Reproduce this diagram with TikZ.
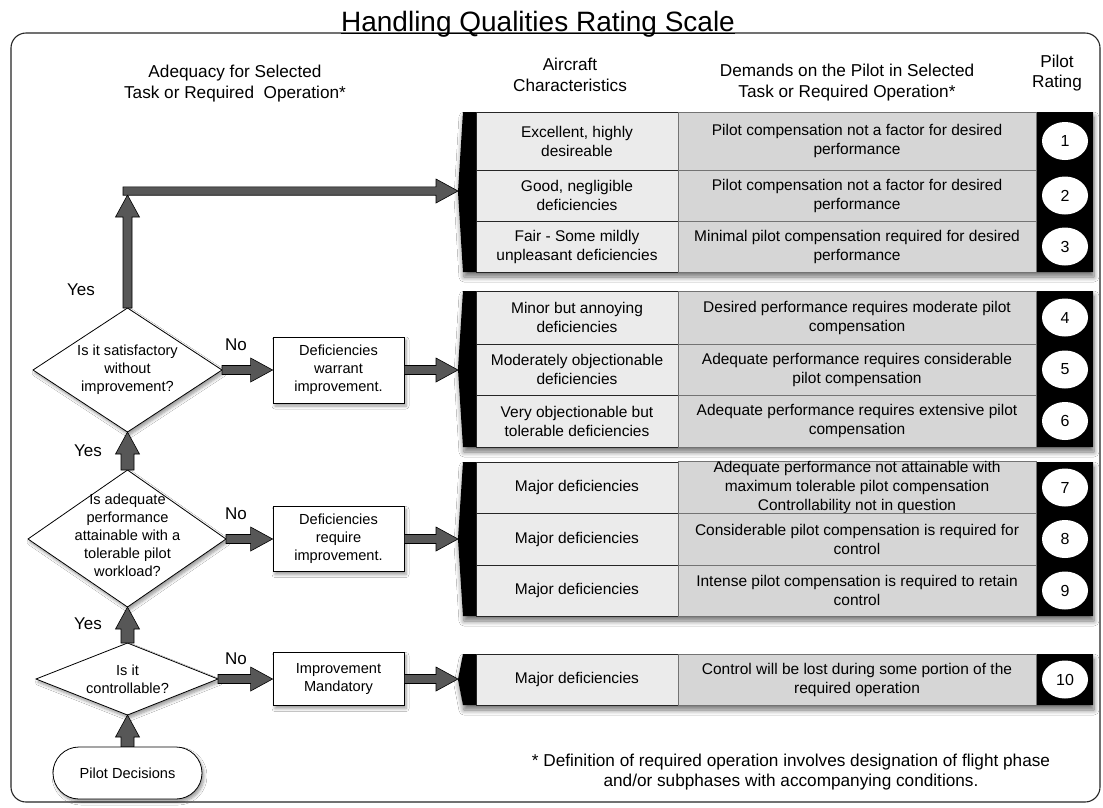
\documentclass[tikz,border=0pt]{standalone}
\usepackage{fontspec}
\setmainfont{Liberation Sans}
\usetikzlibrary{shadows,shadows.blur,calc,shapes.geometric}

\definecolor{arrfill}{HTML}{575757}
\definecolor{cellA}{HTML}{EBEBEB}
\definecolor{cellB}{HTML}{D6D6D6}

\newcommand{\fCell}{\fontsize{15.5}{19}\selectfont}
\newcommand{\fCellT}{\fontsize{15.5}{17}\selectfont}
\newcommand{\fHead}{\fontsize{17.2}{20.5}\selectfont}
\newcommand{\fBox}{\fontsize{14.6}{18}\selectfont}
\newcommand{\fLab}{\fontsize{17}{20}\selectfont}
\newcommand{\fTitle}{\fontsize{28}{32}\selectfont}
\newcommand{\fRate}{\fontsize{16}{18}\selectfont}

% horizontal block arrow: #1 half shaft, #2 from, #3 to
\newcommand{\myRA}[3]{%
 \path[blk] let \p1=#2, \p2=#3 in
 ({\x1},{\y1+#1pt}) -- ({\x2-22pt},{\y1+#1pt}) -- ({\x2-22pt},{\y1+12pt}) --
 ({\x2},{\y1}) -- ({\x2-22pt},{\y1-12pt}) -- ({\x2-22pt},{\y1-#1pt}) --
 ({\x1},{\y1-#1pt}) -- cycle;}
% vertical (upward) block arrow
\newcommand{\myUA}[3]{%
 \path[blk] let \p1=#2, \p2=#3 in
 ({\x1-#1pt},{\y1}) -- ({\x1-#1pt},{\y2-22pt}) -- ({\x1-12pt},{\y2-22pt}) --
 ({\x1},{\y2}) -- ({\x1+12pt},{\y2-22pt}) -- ({\x1+#1pt},{\y2-22pt}) --
 ({\x1+#1pt},{\y1}) -- cycle;}

% table group background with black left bar and rating column
\newcommand{\tgroup}[2]{%
 \path[fill=black, blur shadow={shadow xshift=1pt, shadow yshift=-5pt, shadow blur radius=5pt, shadow blur steps=8, shadow opacity=55}]
 (476,#1) -- (463,#1) -- (458,{(#1+#2)/2}) -- (463,#2) -- (476,#2) --
 (1093,#2) -- (1093,#1) -- cycle;}

\newcommand{\trow}[6]{%
 \node[cA, minimum height=#3pt] (a#1) at (577,#2) {#4};
 \node[cB, minimum height=#3pt] (b#1) at (857,#2) {#5};
 \node[rate] (r#1) at (1065,#2) {#6};}

\begin{document}
\begin{tikzpicture}[x=1pt,y=-1pt,
  blk/.style={fill=arrfill, draw=black, line width=0.6pt, line join=miter},
  cA/.style={draw=black!85, line width=0.7pt, fill=cellA, minimum width=202pt, inner sep=0pt, align=center, font=\fCell},
  cB/.style={draw=black!55, line width=0.7pt, fill=cellB, minimum width=358pt, inner sep=0pt, align=center, font=\fCell},
  rate/.style={ellipse, fill=white, minimum width=46pt, minimum height=38pt, inner sep=0pt, font=\fRate},
  softshadow/.style={blur shadow={shadow xshift=2pt, shadow yshift=-3pt, shadow blur radius=3pt, shadow blur steps=6, shadow opacity=40}},
  dia/.style={draw=black, line width=0.8pt, fill=white, softshadow},
  dtext/.style={align=center, font=\fBox, inner sep=0pt},
  decbox/.style={draw=black, line width=0.8pt, fill=white, minimum width=131pt, align=center, font=\fBox, inner sep=0pt, softshadow},
  lab/.style={font=\fLab, inner sep=0pt},
  head/.style={font=\fHead, align=center, inner sep=0pt}]

\useasboundingbox (0,0) rectangle (1103,807);
\fill[white] (0,0) rectangle (1103,807);

% frame
\draw[line width=1.1pt, rounded corners=15pt, draw=black!85] (11,33) rectangle (1100,802);

% title
\node[inner sep=0pt, anchor=base, font=\fTitle] (title) at (538,31) {Handling Qualities Rating Scale};
\draw[line width=1pt] ([yshift=-2.5pt]title.base west) -- ([yshift=-2.5pt]title.base east);

% headers
\node[head] (hA) at (235,83.5) {Adequacy for Selected\\Task or Required\ \ Operation*};
\node[head] (hB) at (570,75) {Aircraft\\Characteristics};
\node[head] (hC) at (847,82.5) {Demands on the Pilot in Selected\\Task or Required Operation*};
\node[head] (hD) at (1057,73) {Pilot\\Rating};

% ---- table groups ----
\tgroup{112}{272}
\trow{1}{141}{58}{Excellent, highly\\desireable}{Pilot compensation not a factor for desired\\performance}{1}
\trow{2}{195.5}{51}{Good, negligible\\deficiencies}{Pilot compensation not a factor for desired\\performance}{2}
\trow{3}{246.5}{51}{Fair - Some mildly\\unpleasant deficiencies}{Minimal pilot compensation required for desired\\performance}{3}
\coordinate (g1tip) at (458,191);

\tgroup{291}{447}
\trow{4}{317.5}{53}{Minor but annoying\\deficiencies}{Desired performance requires moderate pilot\\compensation}{4}
\trow{5}{369.5}{51}{Moderately objectionable\\deficiencies}{Adequate performance requires considerable\\pilot compensation}{5}
\trow{6}{421}{52}{Very objectionable but\\tolerable deficiencies}{Adequate performance requires extensive pilot\\compensation}{6}
\coordinate (g2tip) at (458,370);

\tgroup{462}{616}
\trow{7}{487.5}{51}{Major deficiencies}{\fCellT Adequate performance not attainable with\\maximum tolerable pilot compensation\\Controllability not in question}{7}
\trow{8}{539}{52}{Major deficiencies}{Considerable pilot compensation is required for\\control}{8}
\trow{9}{590.5}{51}{Major deficiencies}{Intense pilot compensation is required to retain\\control}{9}
\coordinate (g3tip) at (458,539);

\tgroup{654}{705}
\trow{10}{679.5}{51}{Major deficiencies}{Control will be lost during some portion of the\\required operation}{10}
\coordinate (g4tip) at (458,679.5);

% ---- flowchart ----
\coordinate (d1w) at (33,370);  \coordinate (d1n) at (127.5,308);
\coordinate (d1e) at (222,370); \coordinate (d1s) at (127.5,432);
\draw[dia] (d1w) -- (d1n) -- (d1e) -- (d1s) -- cycle;
\node[dtext] (t1) at (127.5,370) {Is it satisfactory\\without\\improvement?};

\coordinate (d2w) at (28,539);  \coordinate (d2n) at (127.5,470);
\coordinate (d2e) at (226,539); \coordinate (d2s) at (127.5,607);
\draw[dia] (d2w) -- (d2n) -- (d2e) -- (d2s) -- cycle;
\node[dtext] (t2) at (127.5,535) {Is adequate\\performance\\attainable with a\\tolerable pilot\\workload?};

\coordinate (d3w) at (36,679);  \coordinate (d3n) at (127.5,643);
\coordinate (d3e) at (218,679); \coordinate (d3s) at (127.5,715);
\draw[dia] (d3w) -- (d3n) -- (d3e) -- (d3s) -- cycle;
\node[dtext] (t3) at (127.5,679) {Is it\\controllable?};

\node[draw=black, line width=0.8pt, fill=white, rounded corners=26pt, minimum width=149pt, minimum height=52pt, inner sep=0pt, font=\fBox, softshadow] (pd) at (127.5,773) {Pilot Decisions};

\node[decbox, minimum height=66pt] (b1) at (338.5,370) {Deficiencies\\warrant\\improvement.};
\node[decbox, minimum height=65pt] (b2) at (338.5,539) {Deficiencies\\require\\improvement.};
\node[decbox, minimum height=53pt] (b3) at (338.5,679) {Improvement\\Mandatory};

\coordinate (jtip) at (127.5,195);
\coordinate (jstart) at (123,191);

% arrows
\myUA{6.5}{(pd.north)}{(d3s)}
\myUA{6.5}{(d3n)}{(d2s)}
\myUA{6.5}{(d2n)}{(d1s)}
\myUA{4.5}{(d1n)}{(jtip)}
\myRA{4.2}{(jstart)}{(g1tip)}
\myRA{4.5}{(d1e)}{(b1.west)}
\myRA{4.5}{(b1.east)}{(g2tip)}
\myRA{4.5}{(d2e)}{(b2.west)}
\myRA{4.5}{(b2.east)}{(g3tip)}
\myRA{4.5}{(d3e)}{(b3.west)}
\myRA{4.5}{(b3.east)}{(g4tip)}

% labels
\node[lab] (no1) at (236,345) {No};
\node[lab] (no2) at (236,514) {No};
\node[lab] (no3) at (236,659) {No};
\node[lab] (yes1) at (81,290) {Yes};
\node[lab] (yes2) at (88,451) {Yes};
\node[lab] (yes3) at (88,624) {Yes};

% footnote
\node[head] (foot) at (791,772) {* Definition of required operation involves designation of flight phase\\and/or subphases with accompanying conditions.};
\end{tikzpicture}
\end{document}
